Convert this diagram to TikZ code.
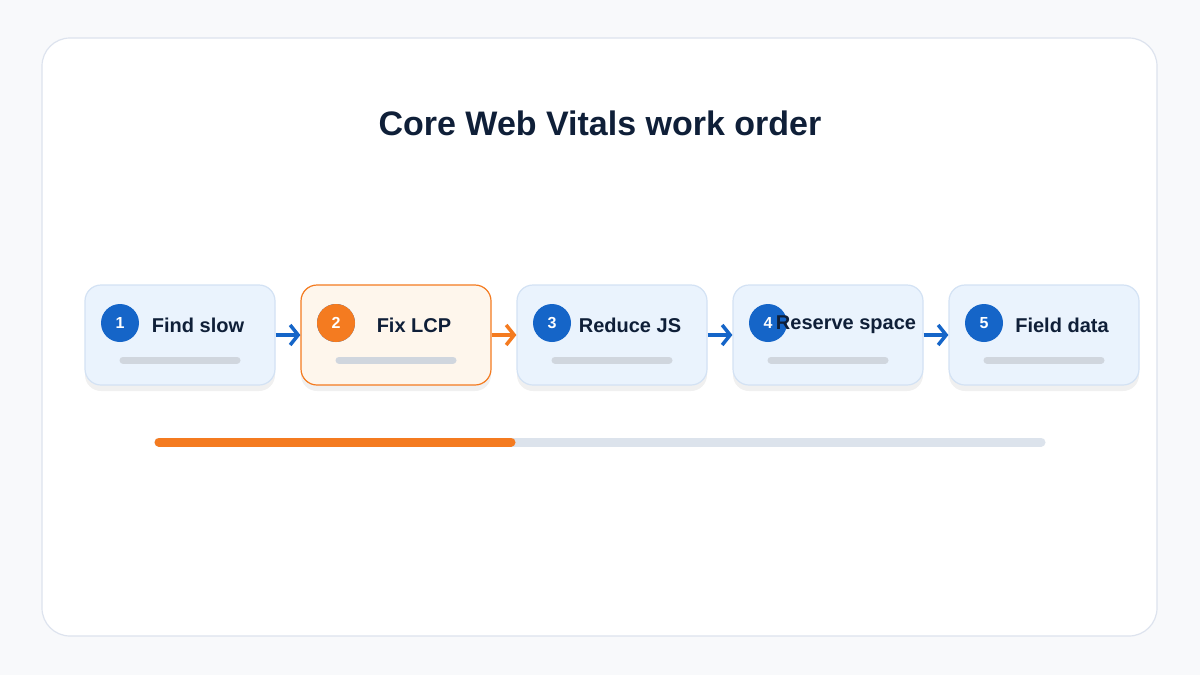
\documentclass[tikz,border=0pt]{standalone}
\usepackage{fontspec}
\setmainfont{Liberation Sans}
\usetikzlibrary{positioning,arrows.meta,shadows}
\definecolor{pagebg}{HTML}{F8F9FB}
\definecolor{frameline}{HTML}{DDE3EE}
\definecolor{ink}{HTML}{0F1F38}
\definecolor{stepblue}{HTML}{1565C8}
\definecolor{cardblue}{HTML}{EAF3FD}
\definecolor{cardline}{HTML}{D3E2F4}
\definecolor{steporange}{HTML}{F47B20}
\definecolor{cardorange}{HTML}{FEF6EC}
\definecolor{barg}{HTML}{D0D6DE}
\definecolor{track}{HTML}{DCE3EC}

\begin{document}
\begin{tikzpicture}[x=1pt,y=-1pt,
  card/.style={draw=cardline,line width=1.2pt,fill=cardblue,rounded corners=16pt,
    minimum width=190pt,minimum height=100pt,inner sep=0pt,
    drop shadow={shadow xshift=0pt,shadow yshift=-6pt,opacity=0.06,fill=black}},
  hot/.style={card,draw=steporange,fill=cardorange},
  num/.style={circle,fill=stepblue,minimum size=38pt,inner sep=0pt,
    text=white,font=\fontsize{16}{16}\selectfont\bfseries},
  label/.style={text=ink,font=\fontsize{20}{20}\selectfont\bfseries},
  flow/.style={draw=stepblue,line width=3.5pt,-{Straight Barb[length=8pt,width=20pt]}},
  ]
  \fill[pagebg] (0,0) rectangle (1200,675);
  \draw[frameline,fill=white,line width=1.2pt,rounded corners=28pt] (42,38) rectangle (1157,636);
  \node[text=ink,font=\fontsize{34}{34}\selectfont\bfseries] (title) at (600,123) {Core Web Vitals work order};

  % steps
  \foreach \i/\t/\s in {1/Find slow/card,2/Fix LCP/hot,3/Reduce JS/card,4/Reserve space/card,5/Field data/card} {
    \node[\s] (c\i) at (180+216*\i-216,335) {};
    \node[num] (n\i) at (120+216*\i-216,323) {\i};
    \node[label] (t\i) at (198+216*\i-216,325) {\t};
    \draw[barg,line width=7pt,line cap=round] (123+216*\i-216,360) -- (237+216*\i-216,360);
  }
  \node[num,fill=steporange] at (n2) {2};
  \path[flow] (c1.east) -- (c2.west);
  \path[flow,draw=steporange] (c2.east) -- (c3.west);
  \path[flow] (c3.east) -- (c4.west);
  \path[flow] (c4.east) -- (c5.west);

  % progress
  \draw[track,line width=9pt,line cap=round] (159,442) -- (1041,442);
  \draw[steporange,line width=9pt,line cap=round] (159,442) -- (511,442);
\end{tikzpicture}
\end{document}
